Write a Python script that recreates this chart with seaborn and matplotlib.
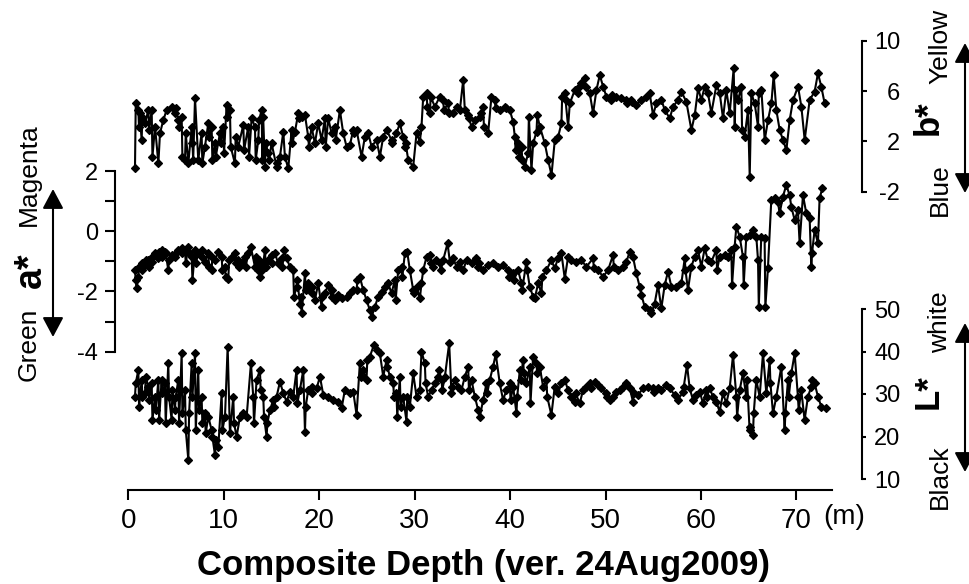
import matplotlib
matplotlib.use("Agg")
import matplotlib.pyplot as plt
import seaborn as sns
import pandas as pd
from matplotlib.patches import FancyArrowPatch

# ---------------- data (depth in m, colour value) ----------------
b_points = [
    (0.70, -0.15), (0.78, 5.02), (1.05, 4.49), (1.12, 3.17), (1.19, 4.23), (1.40, 2.11), (1.47, 3.96),
    (1.75, 3.43), (2.10, 4.49), (2.18, 2.90), (2.45, 4.49), (2.53, 0.78), (2.80, 3.17), (3.15, 0.25),
    (3.32, 2.64), (3.67, 3.70), (4.02, 4.49), (4.54, 4.76), (4.89, 4.23), (4.97, 4.62), (5.24, 3.70),
    (5.32, 3.17), (5.59, 3.96), (5.67, 0.78), (5.94, 0.52), (6.02, 2.64), (6.29, 0.25), (6.64, 3.17),
    (6.72, 1.84), (6.80, 0.52), (6.99, 5.42), (7.33, 0.52), (7.68, 2.64), (7.76, 0.25), (8.03, 1.58),
    (8.38, 3.43), (8.46, 2.37), (8.73, 3.17), (8.81, 0.52), (9.08, 1.84), (9.16, 0.78), (9.60, 2.64),
    (9.68, 1.84), (9.95, 3.17), (10.03, 1.05), (10.30, 4.89), (10.38, 3.96), (10.65, 4.49), (10.73, 1.58),
    (11.17, 0.25), (11.25, 2.37), (11.52, 1.58), (12.05, 3.30), (12.13, 1.31), (12.57, 3.17), (12.65, 0.78),
    (12.92, 3.83), (13.27, 3.17), (13.35, 0.52), (13.62, 2.11), (13.70, 3.70), (13.97, 4.49), (14.05, 0.52),
    (14.13, 3.96), (14.32, -0.01), (14.40, 1.84), (14.67, 1.05), (14.75, 0.52), (15.01, 1.84), (15.54, -0.01),
    (15.62, 0.25), (15.89, 0.78), (16.24, 2.77), (16.41, 0.78), (16.76, -0.15), (17.11, 2.90), (17.19, 1.84),
    (17.46, 2.77), (17.81, 4.23), (17.89, 3.83), (18.16, 3.96), (18.51, 4.09), (18.85, 2.37), (18.93, 1.58),
    (19.20, 3.17), (19.55, 1.84), (19.90, 3.43), (20.25, 2.11), (20.60, 3.83), (20.68, 1.58), (20.95, 3.83),
    (21.30, 2.64), (21.65, 3.17), (21.73, 2.11), (22.17, 4.49), (22.52, 2.64), (22.87, 1.58), (23.22, 1.71),
    (23.57, 2.90), (23.65, 2.64), (23.92, 2.90), (24.44, 0.78), (24.79, 2.37), (25.14, 2.64), (25.49, 1.58),
    (26.01, 2.11), (26.36, 0.78), (26.71, 2.37), (27.06, 2.90), (27.58, 2.11), (27.66, 1.84), (28.10, 2.64),
    (28.45, 3.43), (28.80, 2.37), (28.98, 1.58), (29.06, 1.84), (29.33, 0.52), (29.85, -0.01), (30.20, 2.64),
    (30.55, 1.97), (30.72, 3.17), (30.90, 5.55), (31.25, 5.82), (31.33, 4.76), (31.60, 4.23), (31.68, 5.55),
    (32.12, 4.76), (32.64, 5.55), (32.99, 5.29), (33.07, 4.49), (33.52, 5.02), (33.60, 4.23), (34.04, 4.23),
    (34.39, 4.76), (34.74, 4.49), (35.09, 6.88), (35.26, 4.49), (35.61, 4.09), (35.69, 3.83), (35.96, 3.17),
    (36.31, 3.70), (36.83, 3.96), (36.91, 4.23), (37.18, 4.76), (37.26, 3.17), (37.70, 2.64), (38.05, 5.55),
    (38.40, 5.29), (38.48, 4.62), (38.93, 4.49), (39.45, 4.76), (39.53, 4.62), (39.97, 4.49), (40.32, 3.56),
    (40.50, 2.37), (40.58, 1.31), (40.85, 1.84), (40.93, 0.78), (41.20, 1.58), (41.28, 0.52), (41.54, -0.01),
    (41.89, 1.05), (41.97, 3.96), (42.24, -0.28), (42.42, 1.84), (42.77, 2.77), (42.85, 4.09), (43.12, 3.17),
    (43.64, 1.84), (43.99, 0.52), (44.34, -0.68), (44.69, 2.11), (45.04, 2.37), (45.38, 3.43), (45.46, 5.55),
    (45.73, 5.82), (45.81, 5.29), (46.08, 3.17), (46.26, 5.02), (46.78, 6.08), (47.13, 5.82), (47.21, 6.35),
    (47.48, 6.61), (47.83, 7.01), (47.91, 6.35), (48.35, 5.82), (48.70, 4.23), (49.05, 6.08), (49.40, 7.27),
    (49.75, 6.35), (50.10, 5.55), (50.62, 5.29), (50.70, 5.68), (51.14, 5.55), (51.67, 5.42), (52.19, 5.29),
    (52.27, 5.02), (52.71, 5.29), (52.79, 5.15), (53.24, 4.89), (53.76, 5.29), (54.29, 5.55), (54.63, 5.82),
    (54.98, 4.09), (55.33, 5.02), (55.86, 5.29), (56.21, 4.49), (56.73, 3.83), (57.08, 4.76), (57.60, 5.29),
    (57.95, 5.95), (58.47, 5.15), (59.00, 2.90), (59.35, 4.09), (59.70, 6.21), (60.05, 5.29), (60.39, 6.35),
    (60.74, 5.82), (61.09, 4.23), (61.62, 6.48), (61.97, 5.82), (62.31, 3.83), (62.66, 6.08), (63.01, 4.23),
    (63.43, 7.80), (63.54, 3.17), (63.62, 6.08), (63.89, 5.29), (64.23, 6.35), (64.31, 2.90), (64.58, 2.37),
    (64.93, 4.49), (65.11, -0.81), (65.28, 5.82), (65.63, 5.02), (65.98, 3.17), (66.06, 5.82), (66.33, 6.08),
    (66.68, 2.11), (67.03, 3.70), (67.38, 5.02), (67.62, 7.27), (67.90, 4.49), (68.25, 2.90), (68.60, 2.11),
    (68.95, 1.31), (69.30, 3.70), (69.65, 5.29), (70.17, 6.35), (70.52, 4.76), (70.87, 2.11), (71.39, 5.29),
    (71.91, 5.95), (72.26, 7.41), (72.61, 6.35), (72.96, 5.02),
]

a_points = [
    (0.70, -1.29), (0.78, -1.62), (0.86, -1.90), (1.05, -1.51), (1.13, -1.18), (1.40, -1.29), (1.48, -1.07),
    (1.75, -1.12), (1.83, -0.96), (2.10, -0.96), (2.18, -1.18), (2.45, -0.85), (2.53, -1.01), (2.80, -0.73),
    (3.15, -0.90), (3.23, -0.68), (3.49, -0.62), (3.57, -0.85), (3.84, -0.68), (3.92, -0.73), (4.19, -1.29),
    (4.27, -0.96), (4.54, -0.79), (4.89, -0.85), (4.97, -0.73), (5.24, -0.62), (5.59, -0.57), (5.67, -0.73),
    (5.94, -0.62), (6.02, -1.07), (6.29, -0.51), (6.37, -0.73), (6.64, -0.85), (6.72, -1.62), (6.99, -0.62),
    (7.07, -1.07), (7.33, -0.73), (7.68, -0.62), (7.76, -0.85), (8.03, -1.01), (8.38, -0.73), (8.46, -1.18),
    (8.73, -1.29), (8.81, -0.85), (9.08, -0.96), (9.43, -0.68), (9.78, -0.85), (9.86, -1.29), (10.13, -1.18),
    (10.21, -1.51), (10.48, -1.57), (10.56, -0.96), (10.83, -0.85), (11.17, -0.73), (11.25, -1.07), (11.52, -0.96),
    (11.60, -1.18), (11.87, -1.07), (12.22, -0.85), (12.30, -1.18), (12.57, -0.73), (12.85, -0.54), (13.27, -1.18),
    (13.35, -0.85), (13.62, -1.29), (13.70, -0.96), (13.78, -1.51), (13.97, -1.07), (14.05, -1.29), (14.32, -0.62),
    (14.40, -1.18), (14.67, -0.96), (15.01, -1.07), (15.09, -0.79), (15.36, -0.73), (15.71, -1.07), (16.06, -0.90),
    (16.14, -1.18), (16.34, -0.62), (16.59, -0.90), (16.93, -1.18), (17.28, -1.29), (17.36, -2.17), (17.63, -1.84),
    (17.71, -1.62), (17.98, -2.40), (18.06, -2.17), (18.16, -2.73), (18.51, -1.40), (18.59, -1.95), (18.85, -1.73),
    (19.20, -2.06), (19.28, -1.84), (19.55, -2.29), (19.90, -1.73), (20.25, -2.51), (20.33, -2.17), (20.60, -2.06),
    (20.95, -1.79), (21.30, -2.17), (21.38, -1.95), (21.65, -2.29), (22.00, -2.12), (22.35, -2.23), (22.87, -2.17),
    (23.22, -2.06), (23.57, -1.95), (23.92, -1.95), (24.00, -1.62), (24.26, -1.51), (24.61, -1.95), (24.96, -2.29),
    (25.31, -2.62), (25.49, -2.84), (25.84, -2.51), (26.18, -2.17), (26.53, -2.01), (26.88, -1.84), (27.23, -1.73),
    (27.58, -2.06), (27.93, -1.62), (28.01, -2.29), (28.28, -1.29), (28.63, -1.18), (28.71, -1.51), (28.98, -0.73),
    (29.22, -0.68), (29.50, -1.29), (29.85, -1.95), (29.93, -2.06), (30.20, -1.84), (30.55, -2.23), (30.72, -1.73),
    (30.90, -1.29), (31.25, -0.85), (31.60, -0.79), (31.68, -1.07), (31.94, -1.18), (32.29, -0.96), (32.64, -1.07),
    (32.72, -1.29), (32.99, -0.96), (33.45, -0.40), (33.69, -1.01), (34.04, -0.90), (34.39, -1.18), (34.74, -1.01),
    (35.09, -1.29), (35.44, -0.96), (35.96, -1.07), (36.48, -0.90), (36.65, -1.18), (36.73, -1.07), (37.18, -1.29),
    (37.70, -1.12), (38.22, -1.07), (38.75, -1.18), (39.27, -1.12), (39.79, -1.29), (39.87, -1.51), (40.32, -1.40),
    (40.40, -1.62), (40.84, -1.29), (41.19, -1.73), (41.27, -1.95), (41.71, -1.01), (41.79, -1.29), (42.06, -1.84),
    (42.41, -2.17), (42.59, -2.23), (42.94, -1.73), (43.29, -2.06), (43.37, -1.51), (43.81, -1.29), (44.33, -0.96),
    (44.68, -1.23), (45.03, -0.90), (45.38, -0.73), (45.73, -1.57), (46.08, -0.85), (46.43, -0.96), (46.95, -1.01),
    (47.47, -0.96), (48.00, -1.18), (48.70, -0.90), (48.78, -1.23), (49.22, -1.29), (49.74, -1.51), (50.27, -1.29),
    (50.79, -0.79), (50.87, -1.18), (51.31, -1.29), (51.84, -1.18), (52.19, -1.01), (52.54, -0.68), (52.88, -0.85),
    (53.23, -1.40), (53.58, -1.84), (53.76, -2.12), (54.11, -2.51), (54.63, -2.62), (54.80, -2.73), (55.15, -2.40),
    (55.50, -1.79), (55.85, -2.56), (56.20, -1.79), (56.55, -1.34), (56.90, -1.84), (57.42, -1.84), (57.95, -1.73),
    (58.30, -0.90), (58.38, -1.29), (58.64, -1.95), (58.99, -1.18), (59.34, -0.85), (59.69, -0.62), (60.04, -1.18),
    (60.39, -0.57), (60.74, -0.96), (61.09, -1.01), (61.61, -0.62), (61.69, -1.29), (61.96, -0.85), (62.48, -0.79),
    (62.83, -0.85), (63.18, -0.62), (63.26, -1.79), (63.53, -0.51), (63.71, 0.15), (64.06, -0.18), (64.40, -0.85),
    (64.48, -1.79), (64.75, -0.18), (65.10, -0.13), (65.45, 0.04), (65.80, -0.18), (65.98, -0.96), (66.06, -2.51),
    (66.32, -0.18), (66.67, -0.24), (66.75, -2.51), (67.02, -1.23), (67.37, 1.04), (67.72, 1.09), (68.07, 0.98),
    (68.24, 0.59), (68.59, 1.15), (68.94, 1.53), (69.29, 1.20), (69.47, 0.81), (69.82, 0.37), (70.16, 0.70),
    (70.34, -0.40), (70.69, 1.20), (71.04, 0.59), (71.39, 0.43), (71.56, -1.18), (71.64, -0.73), (71.91, 0.04),
    (72.26, -0.40), (72.43, 1.09), (72.71, 1.42),
]

L_points = [
    (0.70, 29.37), (0.78, 32.51), (1.05, 35.65), (1.13, 27.02), (1.40, 33.30), (1.48, 29.37), (1.75, 30.16),
    (1.83, 34.08), (2.10, 31.73), (2.18, 28.59), (2.45, 32.51), (2.53, 23.88), (2.80, 29.37), (2.88, 26.24),
    (3.15, 33.30), (3.23, 23.88), (3.49, 33.30), (3.57, 30.16), (3.84, 32.51), (3.92, 23.10), (4.19, 37.22),
    (4.27, 29.37), (4.54, 23.88), (4.62, 30.94), (4.89, 26.24), (4.97, 29.37), (5.24, 33.30), (5.32, 23.10),
    (5.59, 39.57), (5.67, 25.45), (5.94, 30.94), (6.02, 21.53), (6.29, 14.47), (6.37, 25.45), (6.64, 37.22),
    (6.72, 29.37), (6.99, 39.57), (7.07, 21.53), (7.33, 35.65), (7.41, 26.24), (7.68, 29.37), (7.76, 23.10),
    (8.03, 25.45), (8.11, 20.75), (8.38, 24.67), (8.73, 21.53), (8.81, 19.96), (9.08, 15.65), (9.16, 19.18),
    (9.43, 17.61), (9.78, 30.16), (9.86, 21.53), (10.13, 24.67), (10.41, 41.14), (10.65, 20.75), (11.00, 29.37),
    (11.08, 23.10), (11.35, 19.96), (11.70, 24.67), (12.05, 25.45), (12.40, 24.67), (12.85, 37.22), (13.09, 29.37),
    (13.17, 23.10), (13.44, 33.30), (13.79, 35.65), (13.87, 30.94), (14.14, 29.37), (14.22, 24.67), (14.49, 19.96),
    (14.57, 23.10), (14.84, 26.24), (15.19, 28.59), (15.27, 27.02), (15.54, 29.37), (15.89, 32.90), (16.24, 30.16),
    (16.59, 28.20), (16.93, 30.55), (17.28, 29.37), (17.63, 35.65), (17.71, 27.81), (17.98, 30.94), (18.33, 35.65),
    (18.51, 21.14), (18.59, 27.02), (18.85, 30.94), (19.20, 30.16), (19.28, 31.73), (19.73, 31.33), (20.08, 34.08),
    (20.43, 29.77), (20.95, 29.37), (21.47, 28.59), (22.00, 28.20), (22.35, 26.63), (22.69, 30.94), (23.22, 30.16),
    (23.57, 30.55), (23.92, 25.06), (24.26, 37.22), (24.34, 34.08), (24.61, 35.65), (24.96, 33.30), (25.04, 38.00),
    (25.31, 38.79), (25.73, 41.53), (26.01, 40.35), (26.36, 39.57), (26.71, 34.08), (27.06, 38.00), (27.14, 36.43),
    (27.41, 34.08), (27.76, 32.51), (27.84, 29.37), (28.10, 30.16), (28.18, 24.67), (28.45, 34.08), (28.53, 27.02),
    (28.80, 29.37), (29.15, 23.49), (29.23, 29.37), (29.50, 27.02), (29.85, 34.86), (30.20, 29.37), (30.55, 30.94),
    (30.72, 39.96), (31.07, 37.22), (31.15, 32.51), (31.42, 29.37), (31.77, 30.94), (32.12, 32.51), (32.47, 34.08),
    (32.55, 35.65), (32.82, 33.30), (32.90, 30.94), (33.17, 34.08), (33.62, 41.92), (33.86, 30.16), (33.94, 31.73),
    (34.21, 33.30), (34.56, 31.73), (34.91, 30.94), (35.26, 34.08), (35.61, 36.43), (35.69, 30.94), (35.96, 33.30),
    (36.31, 29.37), (36.66, 26.24), (36.83, 24.67), (37.18, 28.59), (37.53, 32.51), (37.61, 30.16), (37.87, 33.30),
    (38.22, 36.43), (38.50, 39.41), (38.92, 32.51), (39.27, 28.59), (39.62, 30.94), (39.97, 32.51), (40.05, 28.59),
    (40.32, 31.73), (40.67, 25.45), (40.75, 29.37), (41.02, 35.65), (41.10, 33.30), (41.37, 38.00), (41.45, 34.86),
    (41.71, 32.51), (42.06, 36.43), (42.14, 27.81), (42.41, 38.79), (42.76, 37.22), (42.84, 34.86), (43.11, 36.43),
    (43.46, 31.73), (43.81, 33.30), (43.89, 29.37), (44.33, 25.06), (44.68, 31.73), (45.03, 30.16), (45.38, 32.51),
    (45.73, 33.30), (46.08, 30.94), (46.43, 29.37), (46.78, 28.20), (46.86, 30.16), (47.30, 27.81), (47.65, 30.94),
    (48.00, 31.73), (48.35, 32.51), (48.43, 31.33), (48.87, 32.90), (49.22, 32.12), (49.57, 31.33), (50.09, 30.16),
    (50.17, 29.37), (50.44, 28.59), (50.79, 29.37), (51.14, 30.55), (51.49, 30.94), (51.84, 31.73), (52.19, 32.51),
    (52.54, 31.33), (52.88, 28.20), (52.96, 30.16), (53.41, 29.77), (53.93, 31.33), (54.46, 31.73), (54.98, 31.33),
    (55.06, 30.55), (55.50, 31.33), (55.85, 30.94), (56.38, 32.12), (56.72, 31.33), (57.25, 29.77), (57.60, 28.59),
    (58.12, 30.55), (58.20, 31.73), (58.54, 36.82), (58.82, 31.33), (59.17, 28.59), (59.52, 29.77), (59.87, 30.55),
    (60.22, 27.81), (60.56, 30.94), (60.64, 29.37), (60.91, 31.33), (61.26, 29.37), (61.61, 28.20), (61.96, 25.84),
    (62.31, 30.16), (62.66, 27.81), (63.01, 31.33), (63.36, 39.18), (63.71, 29.37), (63.79, 24.67), (64.06, 30.94),
    (64.40, 34.86), (64.75, 29.37), (64.83, 33.30), (65.10, 21.53), (65.18, 22.31), (65.45, 20.35), (65.53, 25.45),
    (65.80, 33.30), (66.15, 29.37), (66.50, 39.57), (66.85, 30.16), (67.20, 38.00), (67.28, 32.51), (67.55, 25.45),
    (67.90, 29.37), (68.42, 36.43), (68.77, 21.53), (68.85, 25.45), (69.12, 33.30), (69.20, 29.37), (69.47, 34.86),
    (69.82, 39.57), (70.16, 29.37), (70.24, 26.24), (70.51, 30.94), (70.86, 23.88), (71.21, 29.37), (71.56, 31.73),
    (71.64, 33.30), (71.91, 32.51), (72.26, 29.37), (72.61, 27.02), (73.13, 26.63),
]

depth_b = [p[0] for p in b_points]
bstar = [p[1] for p in b_points]
depth_a = [p[0] for p in a_points]
astar = [p[1] for p in a_points]
depth_L = [p[0] for p in L_points]
lstar = [p[1] for p in L_points]

x_ticks = [0, 10, 20, 30, 40, 50, 60, 70]
b_ticks = [-2, 2, 6, 10]
a_ticks = [-4, -3, -2, -1, 0, 1, 2]
a_ticklabels = ["-4", "", "-2", "", "0", "", "2"]
L_ticks = [10, 20, 30, 40, 50]

# ---------------- style ----------------
sns.set_theme(style="white")
plt.rcParams["font.family"] = ["Liberation Sans", "DejaVu Sans"]

W, H = 970.0, 584.0
fig = plt.figure(figsize=(9.7, 5.84), dpi=100)
fig.patch.set_facecolor("white")

X0, X1 = 128.3, 831.7
XMAX = 73.7
LEFT = X0 / W
WIDTH = (X1 - X0) / W
SPINE_R = (861.7 - X0) / (X1 - X0)
SPINE_L = (115.0 - X0) / (X1 - X0)
LW = 1.5


def band_axes(ytop, ybot, ylim):
    ax = fig.add_axes([LEFT, 1 - ybot / H, WIDTH, (ybot - ytop) / H])
    ax.set_xlim(0, XMAX)
    ax.set_ylim(*ylim)
    ax.patch.set_visible(False)
    for s in ax.spines.values():
        s.set_visible(False)
    ax.set_xticks([])
    ax.grid(False)
    return ax


def draw(ax, x, y):
    df = pd.DataFrame({"depth": x, "value": y})
    sns.lineplot(data=df, x="depth", y="value", ax=ax, sort=False, estimator=None,
                 color="black", linewidth=1.5, marker="D", markersize=4.4,
                 markeredgecolor="black", markerfacecolor="black",
                 markeredgewidth=0.9, legend=False, clip_on=False)
    ax.set_xlabel("")
    ax.set_ylabel("")
    ax.set_xlim(0, XMAX)


# b* (top, right axis)
ax_b = band_axes(40.7, 191.7, (-2, 10))
draw(ax_b, depth_b, bstar)
ax_b.spines["right"].set_visible(True)
ax_b.spines["right"].set_position(("axes", SPINE_R))
ax_b.spines["right"].set_linewidth(LW)
ax_b.spines["right"].set_color("black")
ax_b.yaxis.set_ticks_position("right")
ax_b.set_yticks(b_ticks)
ax_b.set_yticklabels([str(t) for t in b_ticks])
ax_b.tick_params(axis="y", which="both", right=True, left=False, labelright=True, labelleft=False,
                 direction="out", length=3.6, width=LW, pad=24, labelsize=17, colors="black")
for lab in ax_b.get_yticklabels():
    lab.set_horizontalalignment("right")

# a* (middle, left axis)
ax_a = band_axes(171.0, 351.7, (-4, 2))
draw(ax_a, depth_a, astar)
ax_a.spines["left"].set_visible(True)
ax_a.spines["left"].set_position(("axes", SPINE_L))
ax_a.spines["left"].set_linewidth(LW)
ax_a.spines["left"].set_color("black")
ax_a.yaxis.set_ticks_position("left")
ax_a.set_yticks(a_ticks)
ax_a.set_yticklabels(a_ticklabels)
ax_a.tick_params(axis="y", which="both", left=True, right=False, labelleft=True, labelright=False,
                 direction="out", length=7.2, width=LW, pad=4.8, labelsize=17, colors="black")

# L* (bottom, right axis)
ax_L = band_axes(309.0, 479.0, (10, 50))
draw(ax_L, depth_L, lstar)
ax_L.spines["right"].set_visible(True)
ax_L.spines["right"].set_position(("axes", SPINE_R))
ax_L.spines["right"].set_linewidth(LW)
ax_L.spines["right"].set_color("black")
ax_L.yaxis.set_ticks_position("right")
ax_L.set_yticks(L_ticks)
ax_L.set_yticklabels([str(t) for t in L_ticks])
ax_L.tick_params(axis="y", which="both", right=True, left=False, labelright=True, labelleft=False,
                 direction="out", length=3.0, width=LW, pad=25, labelsize=17, colors="black")
for lab in ax_L.get_yticklabels():
    lab.set_horizontalalignment("right")

# shared depth axis
ax_x = fig.add_axes([LEFT, 1 - 490.0 / H, WIDTH, 0.05])
ax_x.set_xlim(0, XMAX)
ax_x.patch.set_visible(False)
for k, s in ax_x.spines.items():
    s.set_visible(k == "bottom")
ax_x.spines["bottom"].set_linewidth(LW)
ax_x.spines["bottom"].set_color("black")
ax_x.set_yticks([])
ax_x.set_xticks(x_ticks)
ax_x.set_xticklabels([str(t) for t in x_ticks])
ax_x.tick_params(axis="x", bottom=True, direction="out", length=7.2, width=LW, pad=5.5,
                 labelsize=20, colors="black")
ax_x.grid(False)

# ---------------- annotations ----------------
def ft(x, y, s, **kw):
    fig.text(x / W, 1 - y / H, s, ha="center", va="center", color="black", **kw)

ft(844, 517, "(m)", fontsize=20)
ft(484, 565, "Composite Depth (ver. 24Aug2009)", fontsize=25, fontweight="bold")

# left a*
ft(29, 175, "Magenta", fontsize=19, rotation=90)
ft(31, 270, "a*", fontsize=27, fontweight="bold", rotation=90)
ft(29, 344, "Green", fontsize=19, rotation=90)
# right b*
ft(940, 46, "Yellow", fontsize=19, rotation=90)
ft(928, 118, "b*", fontsize=25, fontweight="bold", rotation=90)
ft(940, 190, "Blue", fontsize=19, rotation=90)
# right L*
ft(940, 322, "white", fontsize=19, rotation=90)
ft(928, 392, "L*", fontsize=25, fontweight="bold", rotation=90)
ft(940, 477, "Black", fontsize=19, rotation=90)


def arrow(x, y0, y1):
    p = FancyArrowPatch((x / W, 1 - y0 / H), (x / W, 1 - y1 / H), transform=fig.transFigure,
                        arrowstyle="<|-|>,head_length=0.6,head_width=0.32", mutation_scale=20,
                        lw=1.5, color="black", shrinkA=0, shrinkB=0)
    fig.patches.append(p)

arrow(53, 189, 337)
arrow(965, 43, 193)
arrow(965, 323, 472)

fig.savefig("out.png", dpi=100, facecolor="white")
